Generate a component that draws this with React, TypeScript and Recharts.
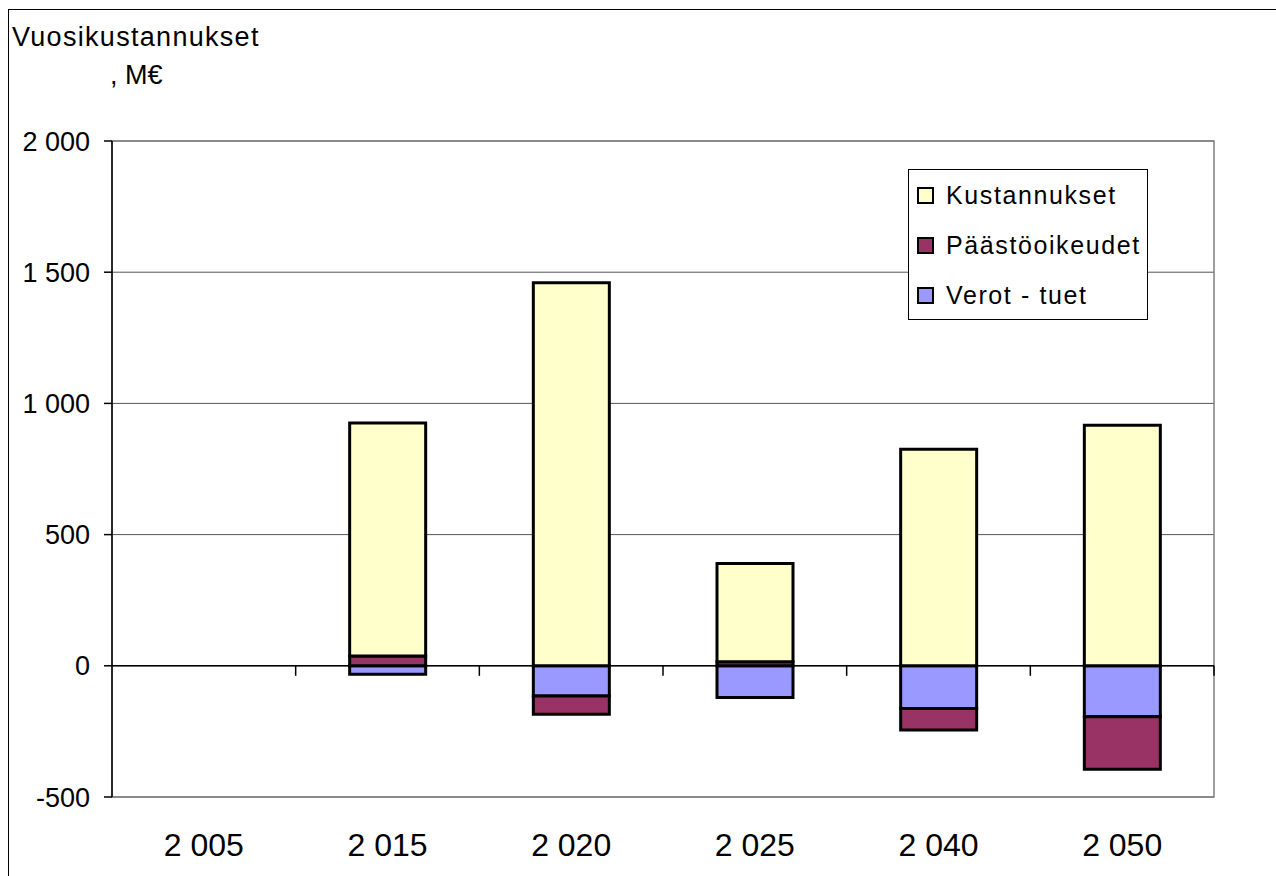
import {
  BarChart, Bar, XAxis, YAxis, CartesianGrid, ReferenceLine, ReferenceArea, Legend,
} from 'recharts'

const years = ['2 005', '2 015', '2 020', '2 025', '2 040', '2 050']
const kustannukset = [null, 888, 1460, 375, 825, 917]
const paastooikeudet = [null, 37, -70, 15, -82, -200]
const verotTuet = [null, -32, -115, -121, -163, -194]
const yTicks = [-500, 0, 500, 1000, 1500, 2000]

// stacking order: first series sits next to zero
const series = [
  { key: 'verot', name: 'Verot - tuet', color: '#9999FF' },
  { key: 'paasto', name: 'Päästöoikeudet', color: '#993366' },
  { key: 'kust', name: 'Kustannukset', color: '#FFFFCC' },
]

const data = years.map((y, i) => ({
  year: y,
  verot: verotTuet[i],
  paasto: paastooikeudet[i],
  kust: kustannukset[i],
}))

const FONT = '"Liberation Sans", Arial, sans-serif'

const fmt = (v: number) => {
  const s = Math.abs(v).toString()
  const withSpace = s.length > 3 ? s.slice(0, s.length - 3) + ' ' + s.slice(-3) : s
  return (v < 0 ? '-' : '') + withSpace
}

// zero line with tick marks at the category boundaries
const ZeroAxis = (p: any) => {
  const { x1, y1, x2 } = p
  const step = (x2 - x1) / years.length
  return (
    <g>
      <line x1={x1} y1={y1} x2={x2} y2={y1} stroke="#000" strokeWidth={1.5} />
      {years.map((_, i) => (
        <line key={i} x1={x1 + step * (i + 1)} y1={y1} x2={x1 + step * (i + 1)} y2={y1 + 10}
          stroke="#000" strokeWidth={1.5} />
      ))}
    </g>
  )
}

const LegendBox = () => (
  <div style={{
    width: 240, height: 151, boxSizing: 'border-box', border: '1px solid #000',
    background: '#fff', fontFamily: FONT, fontSize: 25, color: '#000',
  }}>
    {[...series].reverse().map(s => (
      <div key={s.key} style={{ height: 50, display: 'flex', alignItems: 'center', paddingLeft: 8 }}>
        <span style={{
          width: 17, height: 17, boxSizing: 'border-box', border: '2px solid #000',
          background: s.color, marginRight: 12, display: 'inline-block',
        }} />
        <span style={{ letterSpacing: 1.6 }}>{s.name}</span>
      </div>
    ))}
  </div>
)

export default function App() {
  return (
    <div style={{
      position: 'absolute', left: 0, top: 0, width: 1276, height: 876,
      overflow: 'hidden', background: '#fff', fontFamily: FONT,
    }}>
      <div style={{
        position: 'absolute', left: 8, top: 9, width: 1400, height: 1000,
        borderLeft: '1px solid #000', borderTop: '1px solid #000',
      }} />
      <div style={{
        position: 'absolute', left: 12, top: 23, fontSize: 27, lineHeight: '28px',
        letterSpacing: 1.3, color: '#000',
      }}>
        Vuosikustannukset
      </div>
      <div style={{
        position: 'absolute', left: 110, top: 61, fontSize: 27, lineHeight: '28px', color: '#000',
      }}>
        , M€
      </div>
      <div style={{ position: 'absolute', left: 0, top: 0 }}>
        <BarChart
          width={1276}
          height={876}
          data={data}
          stackOffset="sign"
          barSize={76}
          margin={{ top: 141, right: 62, bottom: 0, left: 0 }}
        >
          <CartesianGrid vertical={false} stroke="#555" strokeWidth={1} />
          <ReferenceArea y1={-500} y2={2000} fill="none" stroke="#808080" strokeWidth={1.5} />
          <XAxis
            dataKey="year"
            height={79}
            axisLine={false}
            tickLine={false}
            tickSize={0}
            tickMargin={36}
            interval={0}
            tick={{ fill: '#000', fontSize: 32, fontFamily: FONT }}
          />
          <YAxis
            width={112}
            domain={[-500, 2000]}
            ticks={yTicks}
            interval={0}
            tickFormatter={fmt}
            tickSize={8}
            tickMargin={14}
            axisLine={{ stroke: '#000', strokeWidth: 1.5 }}
            tickLine={{ stroke: '#000', strokeWidth: 1.5 }}
            tick={{ fill: '#000', fontSize: 27, fontFamily: FONT }}
          />
          <ReferenceLine y={0} stroke="#000" shape={ZeroAxis} />
          {series.map(s => (
            <Bar
              key={s.key}
              dataKey={s.key}
              name={s.name}
              stackId="a"
              fill={s.color}
              stroke="#000"
              strokeWidth={3}
              isAnimationActive={false}
            />
          ))}
          <Legend
            layout="vertical"
            align="center"
            verticalAlign="middle"
            wrapperStyle={{ left: 908, top: 169, width: 240 }}
            content={LegendBox}
          />
        </BarChart>
      </div>
    </div>
  )
}
